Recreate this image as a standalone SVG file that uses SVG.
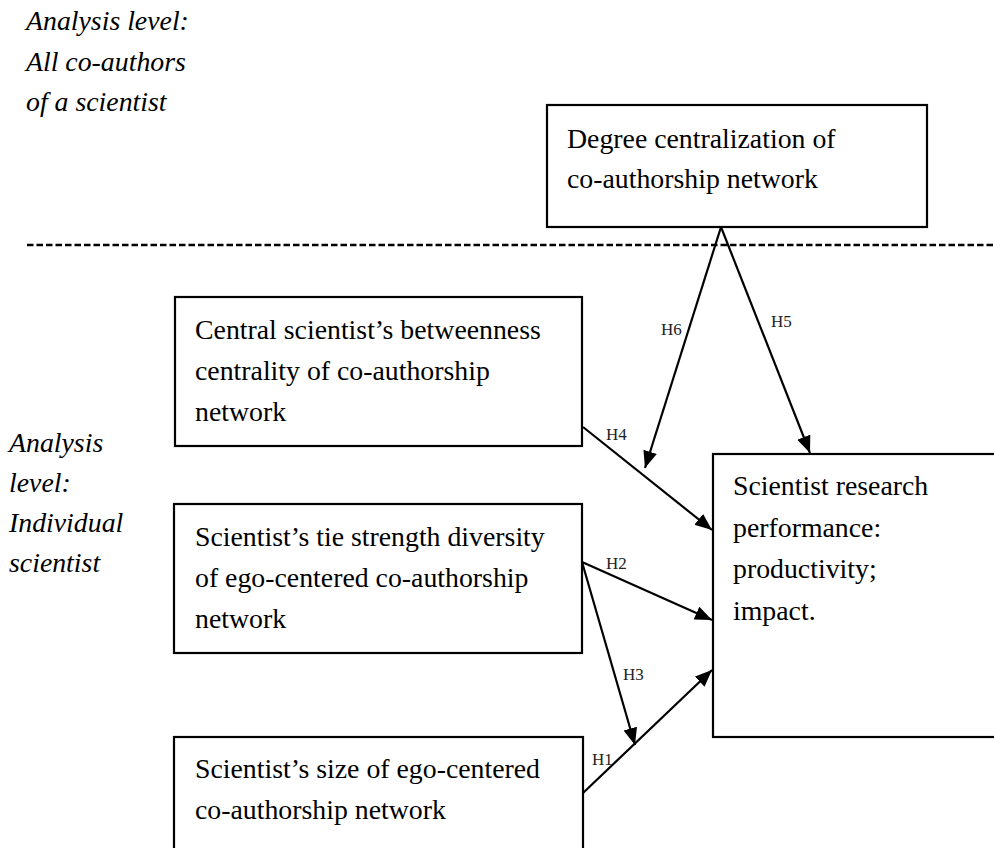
<svg xmlns="http://www.w3.org/2000/svg" width="994" height="848" viewBox="0 0 994 848" font-family="'Liberation Serif', 'DejaVu Serif', serif">
<style>
  .t { font-family: 'Liberation Serif', 'DejaVu Serif', serif; font-size: 27.8px; fill: #000; }
  .it { font-family: 'Liberation Serif', 'DejaVu Serif', serif; font-size: 27.8px; font-style: italic; fill: #000; }
  .lbl { font-family: 'Liberation Serif', 'DejaVu Serif', serif; font-size: 17px; fill: #222; }
  .box { fill: #fff; stroke: #000; stroke-width: 2.2; }
  .conn { stroke: #000; stroke-width: 2.2; fill: none; marker-end: url(#ah); }
  .dash { stroke: #000; stroke-width: 2.5; stroke-dasharray: 6.5 3; }
</style>
<defs>
  <marker id="ah" markerUnits="userSpaceOnUse" markerWidth="18" markerHeight="15" refX="17" refY="7" orient="auto">
    <path d="M0,0 L17,7 L0,14 z" fill="#000"/>
  </marker>
</defs>
<rect width="994" height="848" fill="#fff"/>

<g id="level-top">
  <text class="it" x="26" y="30">Analysis level:</text>
  <text class="it" x="26" y="71">All co-authors</text>
  <text class="it" x="26" y="111">of a scientist</text>
</g>
<g id="level-individual">
  <text class="it" x="9" y="452">Analysis</text>
  <text class="it" x="9" y="492">level:</text>
  <text class="it" x="9" y="532">Individual</text>
  <text class="it" x="9" y="572">scientist</text>
</g>

<line id="divider" class="dash" x1="27" y1="245" x2="994" y2="245"/>

<g id="degree-centralization">
  <rect class="box" x="547" y="105" width="380" height="122"/>
  <text class="t" x="567" y="148">Degree centralization of</text>
  <text class="t" x="567" y="188">co-authorship network</text>
</g>

<g id="betweenness">
  <rect class="box" x="175" y="297" width="407" height="149"/>
  <text class="t" x="195" y="339">Central scientist’s betweenness</text>
  <text class="t" x="195" y="380">centrality of co-authorship</text>
  <text class="t" x="195" y="421">network</text>
</g>

<g id="tie-strength">
  <rect class="box" x="174" y="504" width="408" height="149"/>
  <text class="t" x="195" y="546">Scientist’s tie strength diversity</text>
  <text class="t" x="195" y="587">of ego-centered co-authorship</text>
  <text class="t" x="195" y="628">network</text>
</g>

<g id="size">
  <rect class="box" x="174" y="737" width="409" height="130"/>
  <text class="t" x="195" y="778">Scientist’s size of ego-centered</text>
  <text class="t" x="195" y="819">co-authorship network</text>
</g>

<g id="performance">
  <rect class="box" x="713" y="454" width="300" height="283"/>
  <text class="t" x="733" y="495">Scientist research</text>
  <text class="t" x="733" y="537">performance:</text>
  <text class="t" x="733" y="578">productivity;</text>
  <text class="t" x="733" y="620">impact.</text>
</g>

<g id="connectors">
  <line class="conn" x1="721" y1="227" x2="645" y2="468"/>
  <line class="conn" x1="721" y1="227" x2="810" y2="453"/>
  <line class="conn" x1="583" y1="427" x2="712" y2="530"/>
  <line class="conn" x1="582" y1="562" x2="712" y2="620"/>
  <line class="conn" x1="582" y1="562" x2="635" y2="745"/>
  <line class="conn" x1="583" y1="793" x2="712" y2="670"/>
  <text class="lbl" x="661" y="335">H6</text>
  <text class="lbl" x="771" y="327">H5</text>
  <text class="lbl" x="606" y="440">H4</text>
  <text class="lbl" x="606" y="569">H2</text>
  <text class="lbl" x="623" y="680">H3</text>
  <text class="lbl" x="592" y="765">H1</text>
</g>
</svg>
